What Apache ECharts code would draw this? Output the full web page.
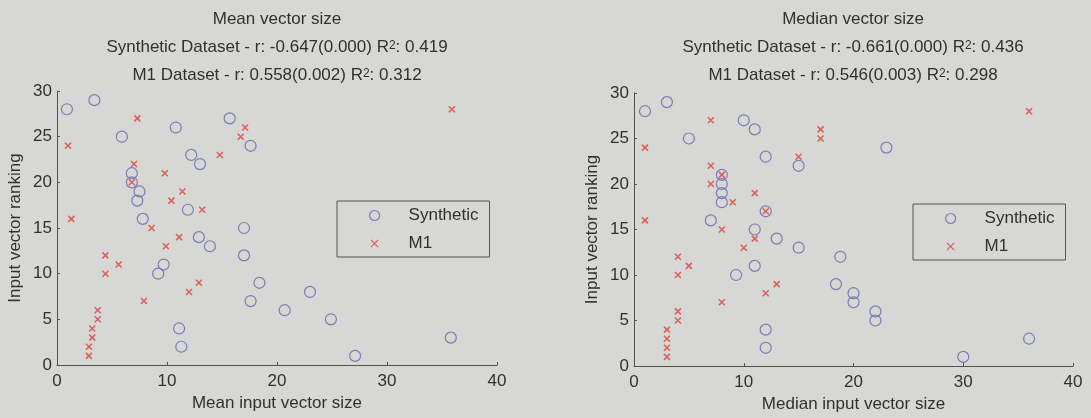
<!DOCTYPE html>
<html>
<head>
<meta charset="utf-8">
<script src="https://cdn.jsdelivr.net/npm/echarts@6/dist/echarts.min.js"></script>
<style>
  html, body { margin: 0; padding: 0; background: #d7d7d5; }
  #chart { width: 1091px; height: 418px; }
</style>
</head>
<body>
<div id="chart"></div>
<script>
// ranks on the y axis
var synRank = [1,2,3,4,5,6,7,8,9,10,11,12,13,14,15,16,17,18,19,20,21,22,23,24,25,26,27,28,29];
var m1Rank = [1,2,3,4,5,6,7,8,9,10,11,12,13,14,15,16,17,18,19,20,21,22,23,24,25,26,27,28];

// mean input vector size (left plot), in rank order
var meanSyn = [27.1,11.3,35.8,11.1,24.9,20.7,17.6,23.0,18.4,9.2,9.7,17.0,13.9,12.9,17.0,7.8,11.9,7.3,7.5,6.8,6.8,13.0,12.2,17.6,5.9,10.8,15.7,0.9,3.4];
var meanM1 = [2.9,2.9,3.2,3.2,3.7,3.7,7.9,12.0,12.9,4.4,5.6,4.4,9.9,11.1,8.6,1.3,13.2,10.4,11.4,6.8,9.8,7.0,14.8,1.0,16.7,17.1,7.3,35.9];

// median input vector size (right plot), in rank order
var medSyn = [30,12,36,12,22,22,20,20,18.4,9.3,11,18.8,15,13,11,7,12,8,8,8,8,15,12,23,5,11,10,1,3];
var medM1 = [3,3,3,3,4,4,8,12,13,4,5,4,10,11,8,1,12,9,11,7,8,7,15,1,17,17,7,36];

var titles = [
    ['Mean vector size', 'Synthetic Dataset - r: -0.647(0.000) R{sup|2}: 0.419', 'M1 Dataset - r: 0.558(0.002) R{sup|2}: 0.312'],
    ['Median vector size', 'Synthetic Dataset - r: -0.661(0.000) R{sup|2}: 0.436', 'M1 Dataset - r: 0.546(0.003) R{sup|2}: 0.298']
];
var xNames = ['Mean input vector size', 'Median input vector size'];

function pairs(xs, ys){
    return xs.map(function(x, i){ return [x, ys[i]]; });
}

var txt = '#303030';
var font = 'Liberation Sans, Arial, sans-serif';
var cross = 'path://M0,0L10,10M10,0L0,10';
// same cross, with empty margin so it is drawn smaller in the legend box
var legendCross = 'path://M-2,-2M0,0L10,10M10,0L0,10M12,12';

var grids = [
    {left: 57, right: 594, top: 91, bottom: 53},
    {left: 634, right: 18, top: 93, bottom: 52}
];
var centers = [277, 853];
var legendPos = [[337, 201], [913, 204]];

var xAxes = [], yAxes = [], titleList = [], legends = [], series = [];

for (var i = 0; i < 2; i++) {
    xAxes.push({
        gridIndex: i, type: 'value', min: 0, max: 40, interval: 10,
        name: xNames[i], nameLocation: 'middle', nameGap: 29,
        nameTextStyle: {color: txt, fontSize: 17, fontFamily: font},
        axisLine: {lineStyle: {color: '#505050', width: 1}},
        axisTick: {inside: true, length: 3, lineStyle: {color: '#505050'}},
        axisLabel: {color: txt, fontSize: 17, fontFamily: font, margin: 8},
        splitLine: {show: false}
    });
    yAxes.push({
        gridIndex: i, type: 'value', min: 0, max: 30, interval: 5,
        name: 'Input vector ranking', nameLocation: 'middle', nameGap: 33,
        nameTextStyle: {color: txt, fontSize: 17, fontFamily: font},
        axisLine: {show: true, lineStyle: {color: '#505050', width: 1}},
        axisTick: {show: true, inside: true, length: 3, lineStyle: {color: '#505050'}},
        axisLabel: {color: txt, fontSize: 17, fontFamily: font, margin: 5},
        splitLine: {show: false}
    });
    titleList.push({
        text: titles[i].join('\n'),
        left: centers[i], top: 5, textAlign: 'center', padding: 0,
        textStyle: {
            color: txt, fontSize: 17, fontWeight: 'normal', fontFamily: font, lineHeight: 28,
            rich: {sup: {fontSize: 12, fontFamily: font, color: txt, verticalAlign: 'bottom', padding: [0, 0, 9, 0]}}
        }
    });
    legends.push({
        left: legendPos[i][0], top: legendPos[i][1], orient: 'vertical',
        data: ['Synthetic', {name: 'M1', icon: legendCross}],
        itemWidth: 10, itemHeight: 10, itemGap: 11,
        padding: [6, 11, 5, 32],
        borderColor: '#555', borderWidth: 1, backgroundColor: 'transparent',
        itemStyle: {borderWidth: 1.2},
        textStyle: {color: txt, fontSize: 17, fontFamily: font, padding: [0, 0, 0, 24]}
    });
}

var sets = [[meanSyn, meanM1], [medSyn, medM1]];
for (var j = 0; j < 2; j++) {
    series.push({
        type: 'scatter', name: 'Synthetic', xAxisIndex: j, yAxisIndex: j,
        data: pairs(sets[j][0], synRank),
        symbol: 'circle', symbolSize: 11,
        itemStyle: {color: 'transparent', borderColor: '#6464ac', borderWidth: 1.2}
    });
    series.push({
        type: 'scatter', name: 'M1', xAxisIndex: j, yAxisIndex: j,
        data: pairs(sets[j][1], m1Rank),
        symbol: cross, symbolSize: 6,
        itemStyle: {color: 'transparent', borderColor: '#d9413b', borderWidth: 1.5}
    });
}

var myChart = echarts.init(document.getElementById('chart'));
myChart.setOption({
    backgroundColor: '#d7d7d5',
    animation: false,
    title: titleList,
    legend: legends,
    grid: grids,
    xAxis: xAxes,
    yAxis: yAxes,
    series: series
});
</script>
</body>
</html>
